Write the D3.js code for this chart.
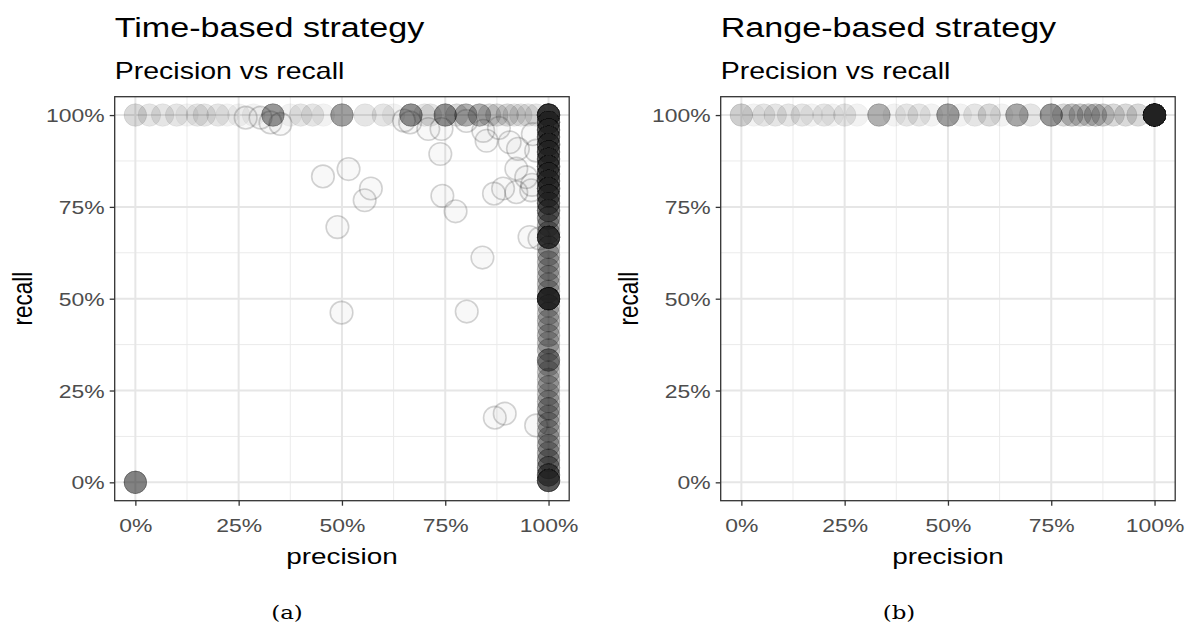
<!DOCTYPE html>
<html>
<head>
<meta charset="utf-8">
<script src="https://cdn.jsdelivr.net/npm/d3@7"></script>
<style>
  body { margin: 0; background: #fff; }
  svg { display: block; }
</style>
</head>
<body>
<div id="chart"></div>
<script>
// ---- data ----
// time-based: runs with precision = 100%, recall values and how many runs sit there
var timeColRecall = [1, 0.98, 0.96, 0.94, 0.92, 0.9, 0.88, 0.86, 0.84, 0.82, 0.8, 0.78, 0.76, 0.74, 0.72, 0.7, 0.68, 0.667, 0.64, 0.62, 0.6, 0.58, 0.56, 0.54, 0.52, 0.5, 0.48, 0.46, 0.44, 0.42, 0.4, 0.38, 0.36, 0.333, 0.32, 0.3, 0.28, 0.26, 0.24, 0.22, 0.2, 0.18, 0.16, 0.14, 0.12, 0.1, 0.08, 0.06, 0.04, 0.02, 0.005];
var timeColCount  = [35, 20, 20, 20, 20, 20, 20, 20, 20, 20, 20, 18, 16, 14, 10, 7, 8, 30, 6, 6, 6, 6, 6, 6, 6, 40, 5, 5, 6, 5, 6, 5, 6, 12, 5, 5, 5, 6, 5, 6, 8, 6, 6, 6, 6, 7, 7, 9, 11, 16, 22];

// time-based: runs with recall = 100%
var timeRowPrecision = [0, 0.034, 0.066, 0.1, 0.125, 0.15, 0.167, 0.2, 0.222, 0.25, 0.286, 0.333, 0.375, 0.4, 0.429, 0.455, 0.5, 0.556, 0.6, 0.625, 0.667, 0.7, 0.714, 0.75, 0.778, 0.8, 0.833, 0.857, 0.875, 0.9, 0.917, 0.933, 0.95, 0.97];
var timeRowCount     = [3, 2, 2, 2, 1, 2, 2, 2, 1, 1, 1, 10, 1, 2, 2, 1, 9, 2, 2, 1, 11, 2, 2, 11, 3, 7, 7, 3, 3, 3, 2, 2, 2, 2];

// time-based: single runs away from the edges
var timeScatterPrecision = [0.267, 0.303, 0.327, 0.351, 0.454, 0.516, 0.57, 0.555, 0.489, 0.499, 0.65, 0.665, 0.709, 0.741, 0.801, 0.842, 0.88, 0.738, 0.743, 0.775, 0.84, 0.802, 0.87, 0.894, 0.97, 0.868, 0.89, 0.922, 0.922, 0.946, 0.958, 0.954, 0.978, 0.906, 0.926, 0.85, 0.962, 0.97, 0.96];
var timeScatterRecall    = [0.993, 0.993, 0.98, 0.976, 0.833, 0.853, 0.80, 0.768, 0.695, 0.462, 0.985, 0.98, 0.962, 0.962, 0.984, 0.957, 0.965, 0.894, 0.78, 0.738, 0.612, 0.465, 0.176, 0.187, 0.155, 0.786, 0.80, 0.79, 0.854, 0.831, 0.795, 0.668, 0.664, 0.926, 0.908, 0.93, 0.948, 0.903, 0.81];

// time-based: runs with precision 0 and recall 0
var timeZeroCount = 13;

// range-based: every run has recall = 100%
var rangeRowPrecision = [0, 0.03, 0.054, 0.082, 0.114, 0.147, 0.17, 0.2, 0.22, 0.25, 0.28, 0.333, 0.37, 0.4, 0.43, 0.46, 0.5, 0.53, 0.565, 0.6, 0.63, 0.667, 0.7, 0.75, 0.78, 0.8, 0.82, 0.84, 0.857, 0.875, 0.9, 0.93, 0.96, 1];
var rangeRowCount     = [4, 1, 2, 2, 2, 2, 1, 2, 1, 2, 1, 7, 1, 2, 2, 1, 9, 1, 2, 3, 1, 8, 2, 10, 3, 5, 4, 4, 5, 4, 3, 3, 3, 70];

var tickValues = [0, 0.25, 0.5, 0.75, 1];
var minorValues = [0.125, 0.375, 0.625, 0.875];
var panelTitles = ["Time-based strategy", "Range-based strategy"];
var subTitle = "Precision vs recall";
var captions = ["(a)", "(b)"];

// ---- build point lists ----
function expand(xs, ys, counts) {
  var out = [];
  xs.forEach(function(x, i) {
    var n = counts ? counts[i] : 1;
    for (var k = 0; k < n; k++) out.push({ precision: x, recall: ys[i] });
  });
  return out;
}

var timeStacked = [];
timeStacked = timeStacked.concat(expand(timeRowPrecision, timeRowPrecision.map(function() { return 1; }), timeRowCount));
timeStacked = timeStacked.concat(expand([0], [0], [timeZeroCount]));
timeStacked = timeStacked.concat(expand(timeColRecall.map(function() { return 1; }), timeColRecall, timeColCount));
var timeSingles = expand(timeScatterPrecision, timeScatterRecall);

var rangeStacked = expand(rangeRowPrecision, rangeRowPrecision.map(function() { return 1; }), rangeRowCount);

// ---- drawing ----
var svgWidth = 1193;
var svgHeight = 628;
var stretch = 1.24;  // the picture's text is drawn wide
var font = "'Liberation Sans', Arial, Helvetica, sans-serif";

var svg = d3.select("#chart")
  .append("svg")
  .attr("width", svgWidth)
  .attr("height", svgHeight);

var pct = d3.format(".0%");

function drawPanel(left, stacked, singles, title, caption, captionX) {
  var x0 = left, x1 = left + 454.5;
  var y0 = 96.7, y1 = 500.7;

  var xScale = d3.scaleLinear().domain([-0.05, 1.05]).range([x0, x1]);
  var yScale = d3.scaleLinear().domain([-0.05, 1.05]).range([y1, y0]);

  var g = svg.append("g");

  // grid
  g.selectAll(".vminor").data(minorValues).enter().append("line")
    .attr("x1", d => xScale(d)).attr("x2", d => xScale(d))
    .attr("y1", y0).attr("y2", y1)
    .attr("stroke", "#ebebeb").attr("stroke-width", 1);
  g.selectAll(".hminor").data(minorValues).enter().append("line")
    .attr("y1", d => yScale(d)).attr("y2", d => yScale(d))
    .attr("x1", x0).attr("x2", x1)
    .attr("stroke", "#ebebeb").attr("stroke-width", 1);
  g.selectAll(".vmajor").data(tickValues).enter().append("line")
    .attr("x1", d => xScale(d)).attr("x2", d => xScale(d))
    .attr("y1", y0).attr("y2", y1)
    .attr("stroke", "#e6e6e6").attr("stroke-width", 2);
  g.selectAll(".hmajor").data(tickValues).enter().append("line")
    .attr("y1", d => yScale(d)).attr("y2", d => yScale(d))
    .attr("x1", x0).attr("x2", x1)
    .attr("stroke", "#e6e6e6").attr("stroke-width", 2);

  // lone runs show up as faint rings
  g.append("g").selectAll("circle").data(singles).enter().append("circle")
    .attr("cx", d => xScale(d.precision))
    .attr("cy", d => yScale(d.recall))
    .attr("r", 11.3)
    .attr("fill", "#262626").attr("fill-opacity", 0.03)
    .attr("stroke", "#262626").attr("stroke-opacity", 0.2)
    .attr("stroke-width", 1.6);

  // stacked runs build up into grey discs
  g.append("g").selectAll("circle").data(stacked).enter().append("circle")
    .attr("cx", d => xScale(d.precision))
    .attr("cy", d => yScale(d.recall))
    .attr("r", 11.3)
    .attr("fill", "#262626").attr("fill-opacity", 0.06)
    .attr("stroke", "#262626").attr("stroke-opacity", 0.03)
    .attr("stroke-width", 1);

  // border
  g.append("rect")
    .attr("x", x0).attr("y", y0)
    .attr("width", x1 - x0).attr("height", y1 - y0)
    .attr("fill", "none").attr("stroke", "#333").attr("stroke-width", 1.3);

  // axes
  var xAxis = d3.axisBottom(xScale).tickValues(tickValues).tickFormat(pct).tickSize(5).tickPadding(5);
  var yAxis = d3.axisLeft(yScale).tickValues(tickValues).tickFormat(pct).tickSize(5).tickPadding(5);

  var gx = g.append("g").attr("transform", `translate(0, ${y1})`).call(xAxis);
  var gy = g.append("g").attr("transform", `translate(${x0}, 0)`).call(yAxis);
  [gx, gy].forEach(function(a) {
    a.select(".domain").remove();
    a.selectAll(".tick line").attr("stroke", "#333").attr("stroke-width", 1.3);
    a.selectAll(".tick text")
      .attr("fill", "#4d4d4d")
      .style("font-family", font)
      .style("font-size", "18.5px");
  });
  // widen tick labels around their anchor
  gx.selectAll(".tick text")
    .attr("y", null).attr("dy", null)
    .attr("transform", `translate(0, 31) scale(${stretch}, 1)`);
  gy.selectAll(".tick text")
    .attr("x", null).attr("dy", null)
    .attr("transform", `translate(-10, 6.5) scale(${stretch}, 1)`);

  function label(text, x, y, size, anchor, rotate, family, color) {
    svg.append("text")
      .attr("transform", `translate(${x}, ${y}) scale(${stretch}, 1)` + (rotate ? " rotate(-90)" : ""))
      .attr("text-anchor", anchor)
      .style("font-family", family || font)
      .style("font-size", size + "px")
      .attr("fill", color || "#000")
      .text(text);
  }

  label(title, x0, 37, 27.5, "start");
  label(subTitle, x0, 79, 23, "start");
  label("precision", (x0 + x1) / 2, 564, 22.5, "middle");
  label("recall", x0 - 83, (y0 + y1) / 2, 22.5, "middle", true);
  label(caption, captionX, 619, 18.5, "middle", false, "'DejaVu Serif', 'Liberation Serif', serif");
}

drawPanel(114.7, timeStacked, timeSingles, panelTitles[0], captions[0], 287);
drawPanel(720.7, rangeStacked, [], panelTitles[1], captions[1], 899);
</script>
</body>
</html>
